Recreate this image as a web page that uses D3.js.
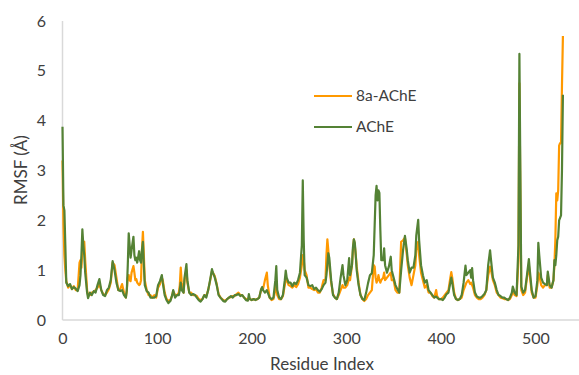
<!DOCTYPE html>
<html>
<head>
<meta charset="utf-8">
<script src="https://cdn.jsdelivr.net/npm/d3@7"></script>
<style>
html,body{margin:0;padding:0;background:#fff;}
svg{display:block;font-family:Lato,"Open Sans",sans-serif;}
</style>
</head>
<body>
<svg id="chart" width="579" height="375"></svg>
<script>
const residues = [0,1,2,3,4,6,8,10,12,14,16,18,19,20,21,22,23,24,26,27,29,31,33,35,37,39,41,43,45,47,49,51,53,55,57,59,61,63,65,67,68,69,70,71,72,73,75,76,77,78,79,81,82,83,84,85,86,87,89,91,93,95,97,99,101,103,105,106,108,110,112,114,116,117,119,121,123,124,125,126,128,129,131,132,134,136,138,140,142,144,146,148,150,152,154,156,158,159,161,163,165,167,170,172,174,176,178,180,182,184,186,188,190,192,194,196,197,198,200,202,204,206,208,210,211,212,214,216,217,219,221,223,225,226,227,229,231,233,235,236,237,239,241,243,245,247,249,251,253,254,255,256,258,260,262,264,266,268,270,272,274,276,278,279,280,281,282,284,286,288,290,292,294,296,297,299,301,303,304,306,307,308,309,310,311,313,315,317,319,321,323,325,327,329,330,331,332,333,334,335,336,337,339,340,341,343,345,347,348,350,352,354,356,358,360,362,364,365,367,369,371,373,374,376,377,379,381,383,385,387,389,391,393,395,396,398,400,402,404,406,408,410,411,412,414,416,418,420,422,424,426,427,429,431,432,433,434,436,438,440,442,444,446,448,450,452,453,455,457,459,461,463,465,467,469,471,473,475,476,478,480,482,483,484,485,487,489,491,493,494,496,498,500,502,503,504,506,508,510,512,513,515,517,519,520,521,522,523,524,525,526,527,528,529];

const rmsfAChE = [3.88,2.3,2.2,1.5,0.75,0.68,0.72,0.62,0.66,0.63,0.58,0.7,0.9,1.3,1.82,1.5,1.3,0.95,0.55,0.44,0.55,0.5,0.58,0.55,0.7,0.82,0.6,0.5,0.48,0.6,0.65,0.8,1.18,1.0,0.75,0.6,0.58,0.6,0.5,0.45,0.6,1.1,1.74,1.5,1.25,1.4,1.67,1.3,1.2,1.25,1.15,1.38,1.2,1.15,1.4,1.57,1.1,0.7,0.58,0.55,0.45,0.45,0.45,0.48,0.7,0.78,0.9,0.75,0.5,0.4,0.34,0.38,0.5,0.6,0.45,0.5,0.5,0.6,0.75,0.6,0.55,0.85,1.12,0.8,0.55,0.5,0.52,0.5,0.45,0.4,0.37,0.42,0.5,0.45,0.6,0.8,1.02,0.95,0.85,0.7,0.5,0.45,0.38,0.37,0.42,0.45,0.48,0.45,0.5,0.5,0.52,0.48,0.5,0.45,0.4,0.39,0.52,0.42,0.4,0.42,0.4,0.42,0.45,0.62,0.66,0.6,0.55,0.6,0.55,0.45,0.42,0.45,0.8,1.08,0.6,0.45,0.42,0.5,0.8,0.99,0.85,0.75,0.75,0.68,0.75,0.72,0.8,0.95,1.5,2.8,1.6,0.9,0.85,0.7,0.68,0.7,0.62,0.65,0.6,0.57,0.62,0.7,0.75,0.9,1.1,1.34,1.25,0.8,0.5,0.45,0.42,0.55,0.85,1.1,0.9,0.7,0.8,1.24,0.9,1.1,1.45,1.62,1.55,1.3,1.0,0.7,0.5,0.42,0.4,0.55,0.74,0.9,0.94,1.3,1.9,2.5,2.69,2.4,2.6,2.55,1.8,1.2,1.2,1.44,1.1,0.95,1.07,1.27,1.0,0.85,0.7,0.62,0.55,1.0,1.4,1.69,1.4,1.2,0.95,1.05,1.05,1.3,1.7,2.01,1.6,1.1,0.9,0.75,0.8,0.6,0.55,0.5,0.45,0.47,0.45,0.42,0.42,0.4,0.45,0.52,0.55,0.75,0.85,0.75,0.5,0.42,0.4,0.42,0.5,0.75,1.09,0.9,0.95,1.0,0.85,1.04,0.8,0.55,0.47,0.45,0.45,0.48,0.52,0.6,1.1,1.4,1.2,0.85,0.75,0.6,0.5,0.48,0.45,0.45,0.42,0.4,0.45,0.55,0.67,0.55,0.5,1.5,5.34,3.0,0.67,0.55,0.6,0.9,1.22,1.0,0.6,0.45,0.48,0.8,1.55,1.3,0.85,0.75,0.72,0.7,0.97,0.7,0.65,0.8,1.2,1.1,1.3,1.6,1.67,2.0,2.05,2.1,3.0,4.52];

const rmsf8a = [3.2,1.9,1.3,1.0,0.78,0.65,0.7,0.62,0.68,0.6,0.6,1.15,1.2,1.05,1.4,1.55,1.57,1.2,0.6,0.5,0.5,0.55,0.56,0.6,0.65,0.72,0.6,0.52,0.5,0.55,0.62,0.75,1.15,1.1,0.85,0.6,0.62,0.72,0.55,0.45,0.6,0.85,0.9,0.8,0.78,0.95,1.08,0.95,0.8,0.82,0.75,0.7,0.72,0.8,1.4,1.77,1.3,0.8,0.6,0.5,0.5,0.45,0.5,0.45,0.65,0.72,0.85,0.8,0.55,0.42,0.38,0.4,0.5,0.58,0.5,0.5,0.55,0.7,1.05,0.75,0.55,0.8,1.0,0.75,0.55,0.55,0.5,0.5,0.48,0.42,0.4,0.42,0.5,0.48,0.6,0.78,0.98,0.95,0.88,0.72,0.52,0.45,0.4,0.38,0.42,0.45,0.46,0.48,0.48,0.52,0.55,0.5,0.5,0.45,0.42,0.4,0.45,0.42,0.4,0.42,0.41,0.42,0.45,0.6,0.65,0.62,0.8,0.95,0.7,0.45,0.4,0.42,0.6,0.7,0.5,0.42,0.42,0.48,0.7,0.85,0.8,0.7,0.68,0.65,0.7,0.66,0.72,0.85,1.1,1.3,1.2,1.0,0.9,0.65,0.65,0.62,0.6,0.62,0.55,0.55,0.65,0.8,0.8,1.3,1.62,1.4,1.1,0.75,0.52,0.45,0.42,0.5,0.6,0.7,0.65,0.65,0.7,0.85,0.8,1.1,1.4,1.62,1.5,1.3,1.07,0.75,0.5,0.42,0.38,0.42,0.5,0.55,0.6,1.1,1.07,0.85,0.75,0.8,0.9,0.8,0.75,0.8,0.85,0.95,0.8,0.85,0.9,0.95,0.8,0.8,0.6,0.55,0.55,1.57,1.6,1.65,1.3,1.1,0.85,0.7,0.9,1.1,1.4,1.57,1.3,0.95,0.8,0.65,0.7,0.55,0.55,0.48,0.45,0.6,0.48,0.42,0.42,0.45,0.5,0.55,0.6,0.85,0.96,0.85,0.55,0.42,0.4,0.42,0.45,0.6,0.7,0.75,0.8,0.72,0.75,0.7,0.65,0.5,0.45,0.42,0.42,0.45,0.5,0.6,0.9,1.07,1.0,0.8,0.7,0.55,0.5,0.45,0.44,0.42,0.42,0.4,0.42,0.5,0.6,0.5,0.48,1.2,4.75,2.5,0.6,0.5,0.55,0.85,1.1,0.9,0.55,0.45,0.45,0.7,0.95,0.9,0.7,0.65,0.7,0.7,0.9,0.65,0.65,0.8,1.1,1.6,2.54,2.4,2.6,3.5,3.55,3.55,4.7,5.7];

const seriesNames = ["8a-AChE", "AChE"];
const seriesColors = ["#FF9900", "#548235"];
const xTicks = [0, 100, 200, 300, 400, 500];
const yTicks = [0, 1, 2, 3, 4, 5, 6];

const svg = d3.select("#chart");
const x = d3.scaleLinear().domain([0, 546]).range([62.5, 579]);
const y = d3.scaleLinear().domain([0, 6]).range([320, 21]);

// axes lines
svg.append("line").attr("x1", 62.5).attr("x2", 62.5).attr("y1", y(6)).attr("y2", y(0))
  .attr("stroke", "#D9D9D9").attr("stroke-width", 1.5);
svg.append("line").attr("x1", 62.5).attr("x2", 579).attr("y1", y(0)).attr("y2", y(0))
  .attr("stroke", "#D9D9D9").attr("stroke-width", 1.5);

// tick labels
const yAxis = d3.axisLeft(y).tickValues(yTicks).tickSize(0).tickPadding(0).tickFormat(d3.format("d"));
const gy = svg.append("g").attr("transform", "translate(46,0)").call(yAxis);
gy.select(".domain").remove();
gy.selectAll("text").attr("font-size", 16).attr("fill", "#404040")
  .attr("font-family", "Lato, sans-serif");

const xAxis = d3.axisBottom(x).tickValues(xTicks).tickSize(0).tickPadding(0).tickFormat(d3.format("d"));
const gx = svg.append("g").attr("transform", "translate(0,333)").call(xAxis);
gx.select(".domain").remove();
gx.selectAll("text").attr("font-size", 16).attr("fill", "#404040")
  .attr("font-family", "Lato, sans-serif");

// axis titles
svg.append("text").attr("x", 322).attr("y", 370).attr("text-anchor", "middle")
  .attr("font-size", 17).attr("fill", "#404040").text("Residue Index");
svg.append("text").attr("transform", "translate(27,170) rotate(-90)").attr("text-anchor", "middle")
  .attr("font-size", 17).attr("fill", "#404040").text("RMSF (Å)");

// lines
const data8a = residues.map((r, i) => [r, rmsf8a[i]]);
const dataA = residues.map((r, i) => [r, rmsfAChE[i]]);
const line = d3.line().x(d => x(d[0])).y(d => y(d[1]));
[data8a, dataA].forEach((d, i) => {
  svg.append("path").datum(d).attr("d", line).attr("fill", "none")
    .attr("stroke", seriesColors[i]).attr("stroke-width", 2.2).attr("stroke-linejoin", "round");
});

// legend
const legY = [96, 127];
seriesNames.forEach((name, i) => {
  svg.append("line").attr("x1", 314).attr("x2", 352).attr("y1", legY[i]).attr("y2", legY[i])
    .attr("stroke", seriesColors[i]).attr("stroke-width", 2.2);
  svg.append("text").attr("x", 356).attr("y", legY[i]).attr("dy", "0.35em")
    .attr("font-size", 15.5).attr("fill", "#404040").text(name);
});
</script>
</body>
</html>
